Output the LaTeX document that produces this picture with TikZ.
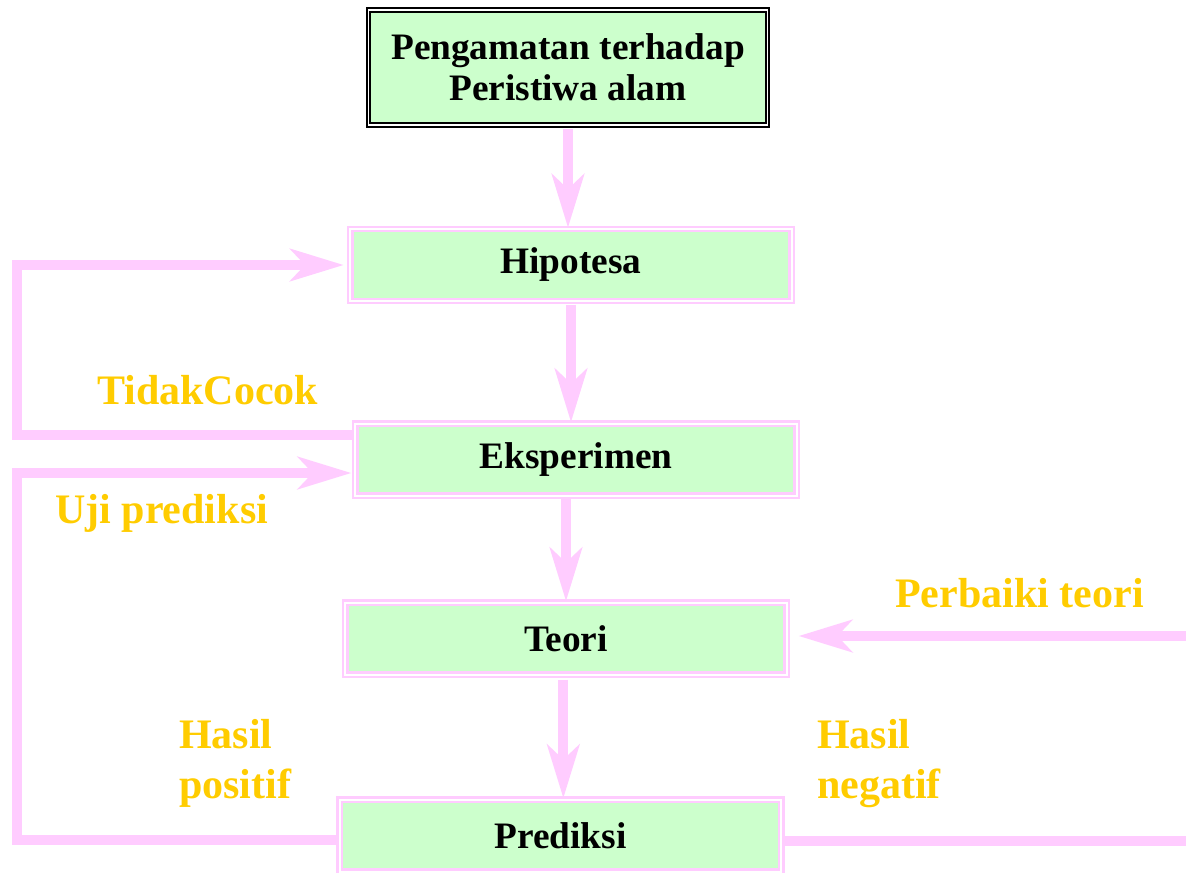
\documentclass[tikz,border=0pt]{standalone}
\usepackage{xcolor}
\usepackage{tikz}
\usetikzlibrary{arrows.meta}
\usepackage{fontspec}
\setmainfont{Liberation Serif}

\definecolor{boxgreen}{RGB}{204,255,204}
\definecolor{flowpink}{RGB}{255,204,255}
\definecolor{labelgold}{RGB}{255,204,0}

\tikzset{
  stagebox/.style={draw=flowpink, double=white, line width=1.8pt, double distance=1.5pt,
    fill=boxgreen, inner sep=0pt, minimum width=331pt, minimum height=54pt,
    font=\fontsize{28}{31}\selectfont\bfseries},
  startbox/.style={draw=black, double=white, line width=1.5pt, double distance=1.2pt,
    fill=boxgreen, inner sep=0pt, minimum width=299pt, minimum height=86.6pt, align=center,
    font=\fontsize{28}{31}\selectfont\bfseries},
  flow/.style={draw=flowpink, line width=7.5pt,
    -{Stealth[length=40pt,width=24pt,inset=11pt]}},
  flowline/.style={draw=flowpink, line width=7.5pt},
  goldlabel/.style={text=labelgold, inner sep=0pt, anchor=base west, align=left,
    font=\fontsize{31.5}{37.5}\selectfont\bfseries}
}

\begin{document}
\begin{tikzpicture}[x=0.75pt,y=0.75pt,yscale=-1,xscale=1]
	\useasboundingbox (0,0) rectangle (1186,872);

	%Shape: Double Rectangle [start]
	\node [startbox] (obs) at (568,67.5) {Pengamatan terhadap\\Peristiwa alam};
	%Shape: Double Rectangles [stages]
	\node [stagebox] (hipo) at (571,265) {Hipotesa};
	\node [stagebox] (eksp) at (576,459.5) {Eksperimen};
	\node [stagebox] (teori) at (566,638.5) {Teori};
	\node [stagebox] (pred) at (560.5,835.5) {Prediksi};

	%Straight Lines [down the chain]
	\draw [flow, shorten <=2pt] (obs.south) -- (obs.south |- hipo.north);
	\draw [flow, shorten <=2pt] (hipo.south) -- (hipo.south |- eksp.north);
	\draw [flow, shorten <=2pt] (eksp.south -| teori.north) -- (teori.north);
	\draw [flow, shorten <=3pt] ([xshift=-2pt]teori.south) -- ([xshift=-2pt]teori.south |- pred.north);

	%Straight Lines [left loops]
	\coordinate (tidak) at (17,435);
	\draw [flow, shorten >=4pt] (tidak -| eksp.west) -- (tidak) |- (hipo.west);
	\coordinate (uji) at (17,473);
	\coordinate (positif) at (17,840);
	\draw [flow, shorten >=2pt] (positif -| pred.west) -- (positif) -- (uji) -- (uji -| eksp.west);

	%Straight Lines [right side]
	\coordinate (perbaiki) at (1192,636);
	\draw [flow, shorten >=8pt] (perbaiki) -- (perbaiki -| teori.east);
	\coordinate (negatif) at (1192,841);
	\draw [flowline] (negatif -| pred.east) -- (negatif);

	% Text Node
	\node [goldlabel] (lbltidak) at (97,404) {TidakCocok};
	% Text Node
	\node [goldlabel] (lbluji) at (55,523) {Uji prediksi};
	% Text Node
	\node [goldlabel] (lblperbaiki) at (895,607) {Perbaiki teori};
	% Text Node
	\node [goldlabel] (lblpositif) at (179,798) {Hasil\\positif};
	% Text Node
	\node [goldlabel] (lblnegatif) at (817,798) {Hasil\\negatif};
\end{tikzpicture}
\end{document}
